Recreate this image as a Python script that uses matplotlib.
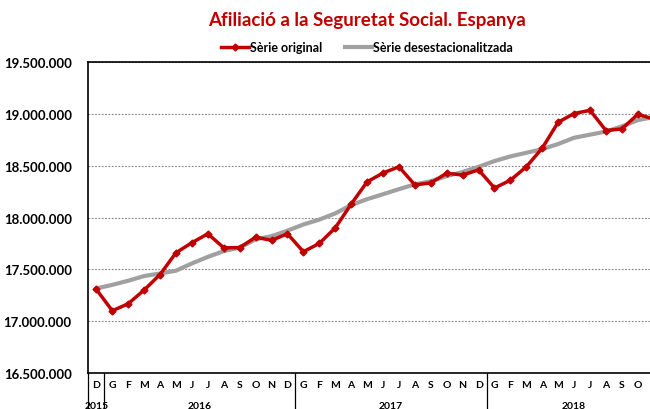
import matplotlib
matplotlib.use("Agg")
import matplotlib.pyplot as plt
import matplotlib.transforms as mtransforms
from matplotlib.ticker import FuncFormatter

plt.rcParams['font.family'] = ['Lato', 'DejaVu Sans']

# months from Dec 2015 to Nov 2018
months = ['D'] + ['G', 'F', 'M', 'A', 'M', 'J', 'J', 'A', 'S', 'O', 'N', 'D'] * 2 + \
         ['G', 'F', 'M', 'A', 'M', 'J', 'J', 'A', 'S', 'O', 'N']
years = ['2015', '2016', '2017', '2018']
year_start = [0, 1, 13, 25]
year_end = [0, 12, 24, 35]

original = [17.306, 17.100, 17.168, 17.300, 17.450, 17.660, 17.757, 17.843,
            17.708, 17.710, 17.810, 17.780, 17.843, 17.670, 17.750, 17.900,
            18.129, 18.344, 18.430, 18.490, 18.315, 18.334, 18.428, 18.410,
            18.460, 18.285, 18.360, 18.490, 18.670, 18.920, 19.004, 19.035,
            18.840, 18.855, 18.997, 18.950]
desest = [17.315, 17.350, 17.390, 17.435, 17.460, 17.487, 17.557, 17.620,
          17.676, 17.710, 17.790, 17.820, 17.873, 17.933, 17.980, 18.040,
          18.120, 18.177, 18.225, 18.274, 18.320, 18.350, 18.400, 18.440,
          18.490, 18.545, 18.590, 18.625, 18.660, 18.710, 18.770, 18.800,
          18.830, 18.880, 18.940, 18.970]

original = [v * 1e6 for v in original]
desest = [v * 1e6 for v in desest]
x = list(range(len(months)))

fig = plt.figure(figsize=(6.5, 4.1), dpi=100)
ax = fig.add_axes([0.136, 0.088, 0.882, 0.758])

ax.plot(x, desest, color='#A0A0A0', lw=3, label='Sèrie desestacionalitzada', zorder=2)
ax.plot(x, original, color='#C00000', lw=2.5, marker='D', ms=3.5,
        label='Sèrie original', zorder=3)

ax.set_ylim(16.5e6, 19.5e6)
ax.set_xlim(-0.5, 35.5)
ax.set_yticks([16.5e6 + i * 0.5e6 for i in range(7)])
ax.yaxis.set_major_formatter(FuncFormatter(lambda v, p: f"{int(v):,}".replace(',', '.')))
ax.tick_params(axis='y', length=0, pad=12, labelsize=9.5)
for lab in ax.get_yticklabels():
    lab.set_fontweight('bold')

ax.set_xticks(x)
ax.set_xticklabels(months, fontsize=7.5, fontweight='bold')
ax.tick_params(axis='x', length=0, pad=5)

ax.grid(axis='y', color='#808080', ls=(0, (1.5, 1.5)), lw=0.8)
for s in ax.spines.values():
    s.set_color('black')
    s.set_linewidth(1.2)

# year separators and labels below the axis
trans = mtransforms.blended_transform_factory(ax.transData, ax.transAxes)
for xs in [-0.5, 0.5, 12.5, 24.5]:
    ax.plot([xs, xs], [0, -0.12], color='black', lw=0.9, transform=trans, clip_on=False)
for yr, a, b in zip(years, year_start, year_end):
    ax.text((a + b) / 2, -0.105, yr, transform=trans, ha='center', va='center',
            fontsize=7.5, fontweight='bold')

handles, labels = ax.get_legend_handles_labels()
fig.legend(handles[::-1], labels[::-1], loc='center', bbox_to_anchor=(0.565, 0.883),
           ncol=2, frameon=False, fontsize=9, handlelength=2.2, columnspacing=1.8,
           handletextpad=0.1, prop={'weight': 'bold', 'size': 9})

fig.text(0.565, 0.95, 'Afiliació a la Seguretat Social. Espanya', ha='center', va='center',
         color='#C00000', fontsize=13.5, fontweight='bold')

fig.savefig('out.png', dpi=100)
